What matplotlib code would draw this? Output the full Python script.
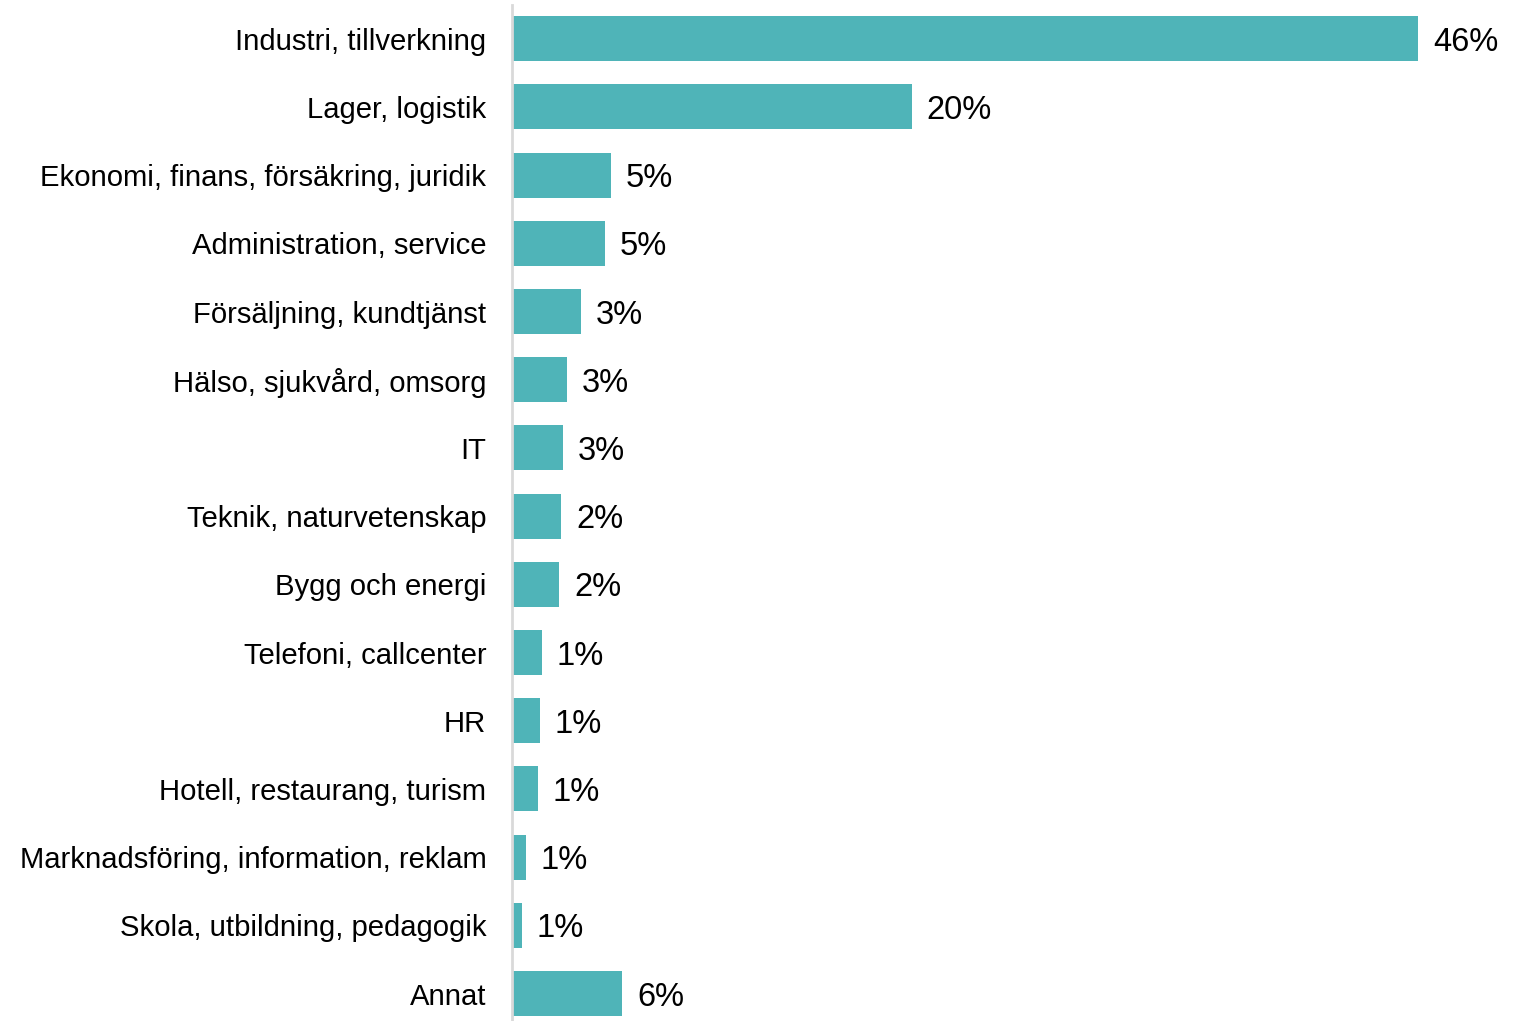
import matplotlib.pyplot as plt

plt.rcParams['font.family'] = ['Liberation Sans', 'DejaVu Sans']

categories = ['Industri, tillverkning', 'Lager, logistik', 'Ekonomi, finans, försäkring, juridik',
              'Administration, service', 'Försäljning, kundtjänst', 'Hälso, sjukvård, omsorg', 'IT',
              'Teknik, naturvetenskap', 'Bygg och energi', 'Telefoni, callcenter', 'HR',
              'Hotell, restaurang, turism', 'Marknadsföring, information, reklam',
              'Skola, utbildning, pedagogik', 'Annat']
values = [46.0, 20.3, 5.0, 4.7, 3.5, 2.8, 2.6, 2.5, 2.4, 1.5, 1.4, 1.3, 0.7, 0.5, 5.6]
value_labels = ['46%', '20%', '5%', '5%', '3%', '3%', '3%', '2%', '2%', '1%', '1%', '1%', '1%', '1%', '6%']

color = '#4fb4b8'

fig = plt.figure(figsize=(15.2, 10.21), dpi=100)
ax = fig.add_axes([512 / 1520, -0.0065, 985 / 1520, 1.002])

y = range(len(categories))
ax.barh(y, values, height=0.66, color=color)
for yi, v, lab in zip(y, values, value_labels):
    ax.text(v + 0.75, yi, lab, va='center_baseline', ha='left', fontsize=23.5, color='black')

ax.set_xlim(0, 50)
ax.set_ylim(len(categories) - 0.5, -0.5)
ax.set_yticks(list(y))
ax.set_yticklabels(categories, fontsize=21.1)
for t in ax.get_yticklabels():
    t.set_verticalalignment('center_baseline')
ax.tick_params(axis='y', length=0, pad=18.5)
ax.set_xticks([])
for s in ['top', 'right', 'bottom']:
    ax.spines[s].set_visible(False)
ax.spines['left'].set_color('#d9d9d9')
ax.spines['left'].set_linewidth(2)

fig.savefig('out.png', dpi=100)
